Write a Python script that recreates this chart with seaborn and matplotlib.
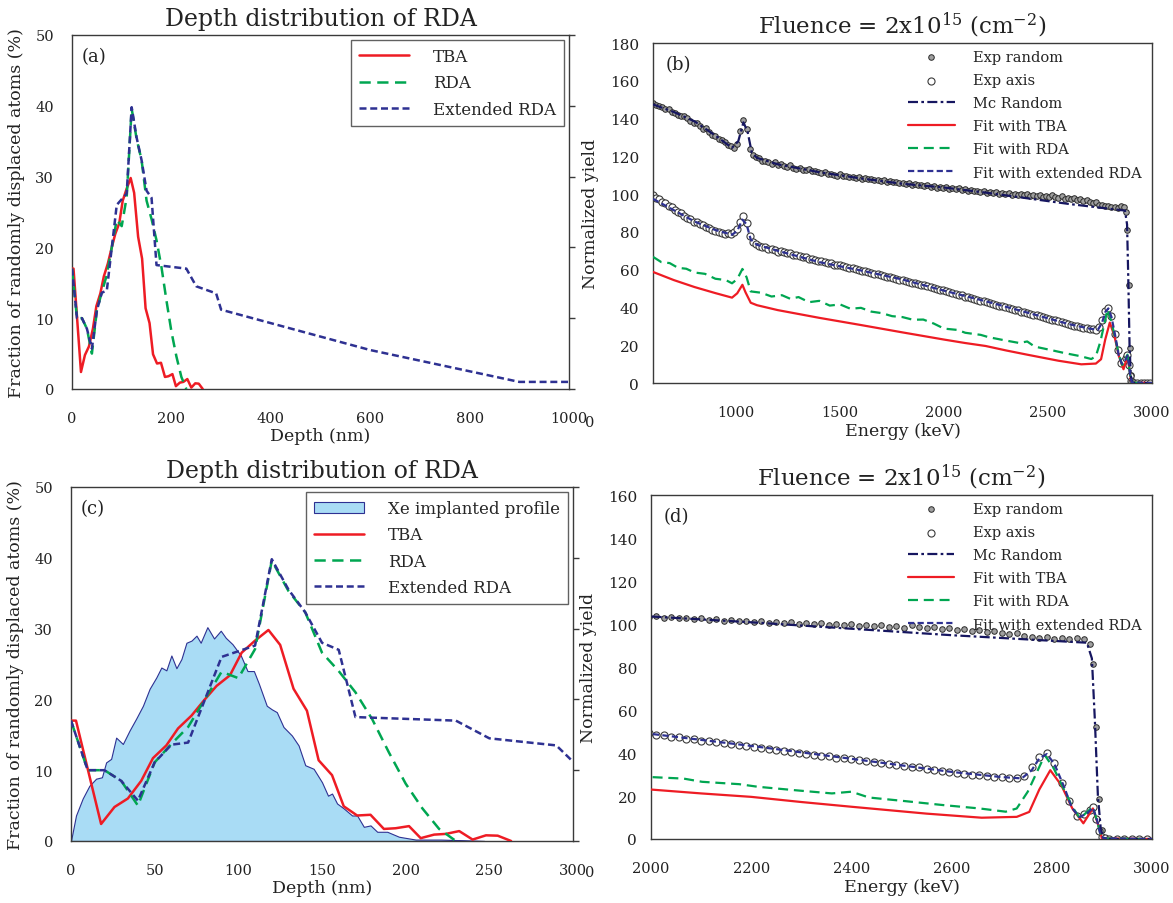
import numpy as np
import matplotlib
matplotlib.use("Agg")
import matplotlib.pyplot as plt
import seaborn as sns

# ---------------- depth distribution data (nm, %) ----------------
tba_x = [0, 3, 18, 26, 34, 42, 49, 57, 64, 72, 80, 87, 95, 102, 110, 118, 125, 133,
         141, 148, 156, 163, 171, 179, 187, 194, 202, 209, 217, 224, 232, 240, 248, 255, 263]
tba_y = [17, 17, 2.4, 4.8, 6.0, 8.5, 11.7, 13.5, 15.9, 17.7, 20.0, 21.9, 23.4, 26.6, 28.3,
         29.8, 27.7, 21.5, 18.4, 11.4, 9.3, 4.9, 3.6, 3.7, 1.7, 1.8, 2.1, 0.4, 0.9, 1.0,
         1.4, 0.2, 0.8, 0.75, 0]

rda_x = [0, 10, 20, 30, 40, 50, 60, 70, 80, 90, 100, 110, 120, 130, 140, 150, 160, 170,
         180, 190, 200, 210, 220, 230]
rda_y = [17, 10, 10, 8.5, 5.0, 11.1, 13.7, 16.1, 20.0, 23.9, 23.0, 27.1, 39.6, 35.3, 32.3,
         26.6, 24.0, 21.0, 17.2, 12.5, 8.1, 4.6, 1.7, 0]

ext_x = [0, 10, 20, 30, 40, 50, 60, 70, 90, 110, 120, 130, 140, 150, 160, 170, 230, 250,
         290, 300, 600, 900, 1000]
ext_y = [17, 10, 10, 8.5, 5.7, 11.1, 13.6, 13.9, 26.0, 27.6, 39.8, 35.5, 32.3, 28.0, 27.0,
         17.5, 17.0, 14.5, 13.5, 11.2, 5.5, 1.0, 1.0]

xe_x = [0, 3, 7, 11, 15, 18.5, 21, 24, 27, 31, 35, 39, 43, 47, 51, 54, 57, 60, 63, 66, 69,
        72, 75, 77.5, 81.5, 85.5, 89.5, 92.5, 96.5, 101.5, 105.5, 109.3, 112.3, 117, 120,
        123, 127, 132, 136, 140, 145, 150, 153.6, 156, 159, 163, 168, 171, 175, 179, 183,
        189, 196, 206, 221, 235, 247]
xe_y = [0, 3.6, 6.0, 7.8, 8.8, 9.0, 11.1, 11.6, 14.6, 13.7, 15.6, 17.3, 19.1, 21.5, 23.1,
        24.5, 24.1, 26.2, 24.4, 25.7, 28.0, 28.3, 29.0, 28.0, 30.2, 28.6, 29.7, 28.7, 27.8,
        26.2, 24.0, 24.0, 22.2, 19.1, 18.6, 18.2, 16.1, 14.9, 13.5, 10.7, 10.2, 8.3, 6.4,
        6.7, 5.3, 4.6, 3.6, 3.6, 2.0, 2.2, 1.3, 1.3, 0.6, 0.2, 0.2, 0.1, 0]

# ---------------- RBS spectra (keV, normalized yield) ----------------
exp_e = np.concatenate([np.arange(600, 2866, 15),
                        [2876, 2882, 2888, 2894, 2900, 2906],
                        np.arange(2915, 3001, 15)])
exp_random = [
    148.5, 147.4, 146.9, 146.1, 145.0, 145.3, 143.7, 143.2, 142.1, 141.4,
    141.6, 140.2, 138.9, 137.9, 137.4, 136.1, 134.6, 135.2, 132.8, 131.5,
    131.0, 129.2, 128.4, 127.6, 126.1, 125.4, 124.6, 126.8, 133.2, 139.4,
    134.6, 124.0, 120.6, 119.4, 118.9, 117.8, 117.5, 117.0, 116.2, 116.9,
    115.5, 115.8, 114.9, 114.4, 115.2, 114.0, 113.4, 113.9, 112.9, 112.6,
    113.3, 112.1, 112.5, 111.6, 111.2, 111.8, 110.6, 110.9, 110.2, 109.8,
    110.4, 109.4, 109.7, 108.9, 109.2, 108.5, 108.9, 108.1, 108.4, 107.8,
    108.2, 107.3, 107.6, 107.0, 107.4, 106.6, 106.9, 106.2, 106.6, 105.8,
    106.1, 105.4, 105.9, 104.9, 105.3, 104.6, 104.9, 104.2, 104.7, 103.8,
    104.1, 103.5, 103.9, 103.2, 103.6, 102.9, 103.3, 102.6, 103.0, 102.2,
    102.6, 101.8, 102.3, 101.5, 101.9, 101.2, 101.6, 100.8, 101.3, 100.6,
    101.0, 100.3, 100.8, 100.1, 100.5, 99.8, 100.3, 99.6, 100.1, 99.5,
    100.0, 99.2, 99.7, 98.9, 99.4, 98.6, 99.1, 98.3, 99.6, 98.7,
    98.2, 98.8, 97.6, 98.1, 97.3, 97.7, 96.8, 97.2, 96.3, 96.7,
    95.8, 95.3, 95.6, 94.5, 94.1, 93.6, 93.9, 93.1, 93.4, 92.8,
    93.5, 93.2,
    90.6, 81.2, 52.0, 18.8, 4.2, 0.6,
    0.2, 0.1, 0.2, 0.1, 0.2, 0.1]
exp_axis = [
    99.6, 98.0, 97.4, 95.9, 95.3, 93.8, 93.2, 91.6, 90.4, 89.8,
    88.2, 87.4, 86.8, 85.5, 85.1, 84.0, 83.6, 82.5, 82.1, 81.2,
    80.4, 80.0, 79.6, 79.1, 79.4, 79.0, 79.8, 81.5, 85.2, 88.4,
    84.8, 77.6, 74.5, 73.6, 72.8, 72.1, 71.9, 71.2, 70.8, 70.3,
    69.6, 69.9, 69.1, 68.6, 68.9, 68.0, 67.6, 67.1, 66.6, 66.8,
    65.9, 65.6, 64.9, 64.6, 64.8, 63.9, 63.5, 63.4, 62.7, 62.5,
    62.6, 61.9, 61.4, 61.1, 60.7, 60.3, 59.8, 59.5, 59.1, 58.6,
    58.4, 57.8, 57.6, 57.0, 56.9, 56.3, 56.2, 55.5, 55.3, 54.7,
    54.6, 53.9, 53.7, 53.2, 52.8, 52.5, 52.0, 51.8, 51.2, 50.9,
    50.3, 50.0, 49.5, 49.2, 48.5, 48.4, 47.6, 47.3, 46.7, 46.4,
    45.8, 45.6, 44.9, 44.6, 44.1, 43.6, 43.3, 42.7, 42.5, 41.8,
    41.5, 40.9, 40.6, 40.1, 39.5, 39.3, 38.6, 38.4, 37.8, 37.6,
    37.1, 36.7, 36.2, 35.9, 35.3, 35.1, 34.4, 34.1, 33.5, 33.3,
    32.6, 32.2, 31.8, 31.2, 30.9, 30.3, 30.0, 29.8, 29.3, 29.0,
    28.8, 28.4, 28.3, 29.4, 33.5, 38.2, 39.8, 35.5, 26.0, 17.6,
    10.8, 11.6,
    13.5, 14.8, 9.5, 3.6, 1.0, 0.4,
    0.1, 0.2, 0.1, 0.2, 0.1, 0.2]

mc_e = [600, 700, 800, 900, 980, 1010, 1035, 1055, 1075, 1100, 1200, 1400, 1600, 1800,
        2000, 2200, 2400, 2600, 2800, 2870, 2880, 2886, 2892, 2898, 2904, 2910, 3000]
mc_y = [147.5, 143.5, 138.5, 131.0, 124.5, 128.0, 138.0, 133.0, 122.0, 119.2, 115.8,
        111.6, 108.3, 105.5, 103.5, 100.8, 97.8, 94.8, 92.2, 91.3, 84.0, 55.0, 20.0, 4.0,
        0.5, 0, 0]

fit_tba_e = [600, 700, 800, 900, 980, 1005, 1030, 1045, 1070, 1100, 1200, 1400, 1600,
             1800, 2000, 2100, 2200, 2300, 2400, 2550, 2660, 2730, 2755, 2775, 2797, 2819,
             2841, 2863, 2882, 2892, 2900, 3000]
fit_tba_y = [58.8, 54.5, 50.8, 47.6, 45.2, 47.5, 52.0, 48.0, 42.5, 41.2, 38.6, 34.5, 30.7,
             26.8, 23.0, 21.2, 19.6, 17.2, 15.0, 11.8, 9.9, 10.3, 12.6, 23.0, 32.0, 25.0,
             14.2, 7.3, 14.2, 7.0, 0.3, 0]

fit_rda_e = [600, 640, 680, 720, 760, 800, 850, 900, 950, 980, 1005, 1030, 1050, 1070,
             1120, 1170, 1220, 1260, 1300, 1350, 1400, 1450, 1500, 1550, 1600, 1650, 1700,
             1750, 1800, 1850, 1900, 1950, 2000, 2065, 2102, 2176, 2213, 2287, 2361, 2400,
             2435, 2508, 2582, 2656, 2708, 2730, 2752, 2786, 2804, 2841, 2856, 2882, 2900,
             3000]
fit_rda_y = [66.8, 64.0, 63.5, 61.0, 60.5, 58.5, 57.8, 55.2, 54.5, 52.8, 55.0, 60.4, 56.0,
             48.5, 47.8, 45.8, 46.5, 44.6, 45.5, 42.8, 43.5, 41.0, 41.6, 39.3, 39.8, 37.8,
             37.0, 35.4, 34.9, 33.5, 33.6, 31.5, 28.8, 28.1, 26.6, 25.5, 24.3, 22.7, 21.2,
             22.0, 19.3, 17.6, 15.8, 14.2, 12.7, 14.2, 22.0, 39.0, 32.8, 15.0, 9.6, 15.0,
             0.3, 0]

fit_ext_e = [600, 700, 800, 900, 980, 1005, 1030, 1050, 1070, 1100, 1200, 1400, 1600,
             1800, 2000, 2200, 2400, 2600, 2700, 2740, 2760, 2775, 2790, 2805, 2825, 2840,
             2855, 2870, 2882, 2890, 2896, 2903, 3000]
fit_ext_y = [97.5, 91.5, 85.5, 81.0, 78.5, 80.5, 86.5, 84.0, 76.0, 73.2, 70.0, 64.0, 59.6,
             54.8, 48.9, 43.3, 37.3, 31.2, 28.8, 28.2, 32.0, 37.5, 39.5, 35.0, 24.0, 14.5,
             10.2, 11.8, 14.5, 9.0, 3.0, 0.3, 0]

# ---------------- style ----------------
sns.set_style("white")
plt.rcParams['font.family'] = ['DejaVu Serif']
plt.rcParams['mathtext.fontset'] = 'dejavuserif'
plt.rcParams['axes.edgecolor'] = '#3a3a3a'
plt.rcParams['axes.linewidth'] = 1.0

RED = '#ee1c24'
GREEN = '#00a651'
BLUE = '#2e3192'
NAVY = '#161660'
XE_FILL = '#a9dcf5'
TXT = '#222222'

ls_rda = (0, (4.5, 2.6))
ls_ext = (0, (2.8, 1.5))
ls_mc = (0, (4.5, 1.5, 1.2, 1.5))

fig = plt.figure(figsize=(11.73, 9.04), dpi=100)
ax_a = fig.add_axes([0.0614, 0.5686, 0.4237, 0.3916])
ax_b = fig.add_axes([0.5567, 0.5752, 0.4254, 0.3761])
ax_c = fig.add_axes([0.0605, 0.0686, 0.4280, 0.3916])
ax_d = fig.add_axes([0.5550, 0.0708, 0.4271, 0.3805])

TICK_FS = 10.5
LAB_FS = 12.5


def depth_panel(ax, tag, xmax, xstep, with_xe):
    if with_xe:
        ax.fill_between(xe_x, xe_y, 0, facecolor=XE_FILL, edgecolor=BLUE, linewidth=0.8,
                        label='Xe implanted profile', zorder=1)
    sns.lineplot(x=tba_x, y=tba_y, ax=ax, color=RED, linewidth=1.8, label='TBA',
                 sort=False, estimator=None, zorder=3)
    sns.lineplot(x=rda_x, y=rda_y, ax=ax, color=GREEN, linewidth=1.8, linestyle=ls_rda,
                 label='RDA', sort=False, estimator=None, zorder=3)
    sns.lineplot(x=ext_x, y=ext_y, ax=ax, color=BLUE, linewidth=1.8, linestyle=ls_ext,
                 label='Extended RDA', sort=False, estimator=None, zorder=4)
    ax.set_xlim(0, xmax)
    ax.set_ylim(0, 50)
    ax.set_xticks(np.arange(0, xmax + 1, xstep))
    ax.set_yticks(np.arange(0, 51, 10))
    ax.tick_params(axis='x', direction='out', length=4, width=1, pad=12,
                   labelsize=TICK_FS, colors='#3a3a3a', labelcolor=TXT)
    ax.tick_params(axis='y', direction='out', length=4, width=1, pad=9,
                   labelsize=TICK_FS, colors='#3a3a3a', labelcolor=TXT)
    ax.tick_params(axis='y', which='major', right=True)
    ax.set_xlabel('Depth (nm)', fontsize=LAB_FS, labelpad=1, color=TXT)
    ax.set_ylabel('Fraction of randomly displaced atoms (%)', fontsize=LAB_FS,
                  labelpad=7, color=TXT)
    ax.set_title('Depth distribution of RDA', fontsize=17, pad=7, color=TXT)
    ax.text(0.02, 0.965, tag, transform=ax.transAxes, fontsize=13, va='top', color=TXT)
    leg = ax.legend(loc='upper right', fontsize=12, handlelength=3.0, fancybox=False,
                    frameon=True, borderaxespad=0.3, labelspacing=0.55,
                    handletextpad=1.4, borderpad=0.5)
    leg.get_frame().set_edgecolor('#3a3a3a')
    leg.get_frame().set_linewidth(1.0)


def spectrum_panel(ax, tag, xlim, xticks, ylim):
    sns.scatterplot(x=exp_e, y=exp_random, ax=ax, s=16, color='#a0a0a0',
                    edgecolor='#2a2a2a', linewidth=0.7, label='Exp random', zorder=2)
    sns.scatterplot(x=exp_e, y=exp_axis, ax=ax, s=26, color='white',
                    edgecolor='#3a3a3a', linewidth=0.8, label='Exp axis', zorder=2)
    sns.lineplot(x=mc_e, y=mc_y, ax=ax, color=NAVY, linewidth=1.6, linestyle=ls_mc,
                 label='Mc Random', sort=False, estimator=None, zorder=4)
    sns.lineplot(x=fit_tba_e, y=fit_tba_y, ax=ax, color=RED, linewidth=1.6,
                 label='Fit with TBA', sort=False, estimator=None, zorder=3)
    sns.lineplot(x=fit_rda_e, y=fit_rda_y, ax=ax, color=GREEN, linewidth=1.6,
                 linestyle=ls_rda, label='Fit with RDA', sort=False, estimator=None,
                 zorder=3)
    sns.lineplot(x=fit_ext_e, y=fit_ext_y, ax=ax, color=BLUE, linewidth=1.6,
                 linestyle=ls_ext, label='Fit with extended RDA', sort=False,
                 estimator=None, zorder=4)
    ax.set_xlim(*xlim)
    ax.set_ylim(*ylim)
    ax.set_xticks(xticks)
    ax.set_yticks(np.arange(0, ylim[1] + 1, 20))
    ax.tick_params(axis='x', direction='in', length=4, width=1, pad=16,
                   labelsize=TICK_FS, colors='#3a3a3a', labelcolor=TXT)
    ax.tick_params(axis='y', direction='out', length=4, width=1, pad=6,
                   labelsize=TICK_FS + 0.5, colors='#3a3a3a', labelcolor=TXT)
    ax.set_xlabel('Energy (keV)', fontsize=LAB_FS, labelpad=2, color=TXT)
    ax.set_ylabel('Normalized yield', fontsize=LAB_FS, labelpad=8, color=TXT)
    ax.set_title(r'Fluence = 2x10$^{15}$ (cm$^{-2}$)', fontsize=16.5, pad=8, color=TXT)
    ax.text(0.025, 0.965, tag, transform=ax.transAxes, fontsize=13, va='top', color=TXT)
    ax.legend(loc='upper right', fontsize=10.5, handlelength=3.2, frameon=False,
              borderaxespad=0.1, labelspacing=0.62, handletextpad=1.3,
              scatterpoints=1, bbox_to_anchor=(0.995, 1.0))


depth_panel(ax_a, '(a)', 1000, 200, False)
depth_panel(ax_c, '(c)', 300, 50, True)
spectrum_panel(ax_b, '(b)', (600, 3000), np.arange(1000, 3001, 500), (0, 180))
spectrum_panel(ax_d, '(d)', (2000, 3000), np.arange(2000, 3001, 200), (0, 160))

# stray tick-label remnants visible in the original figure
fig.text(590 / 1173, 1 - 423 / 904, '0', fontsize=TICK_FS, ha='center', va='center',
         color=TXT)
fig.text(590 / 1173, 1 - 873 / 904, '0', fontsize=TICK_FS, ha='center', va='center',
         color=TXT)

fig.savefig('out.png', dpi=100)
